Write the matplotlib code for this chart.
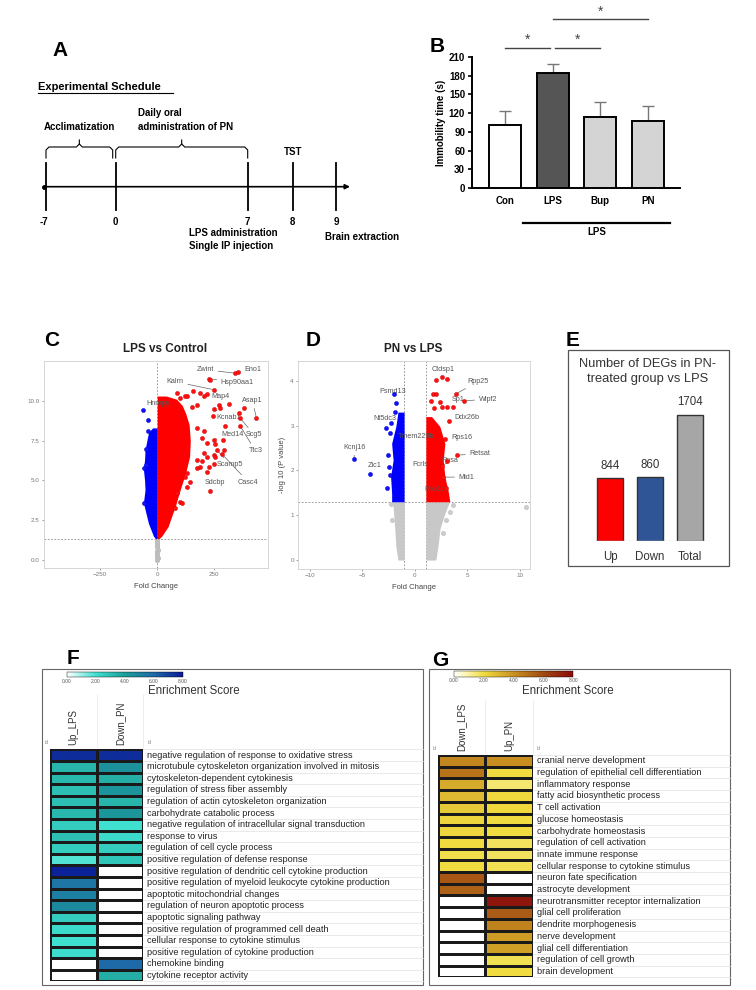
import numpy as np
import matplotlib
matplotlib.use("Agg")
import matplotlib.pyplot as plt
from matplotlib.patches import Rectangle
from matplotlib.colors import LinearSegmentedColormap, Normalize
from matplotlib.colorbar import ColorbarBase

plt.rcParams["font.family"] = ["Liberation Sans", "DejaVu Sans"]

W, H = 756, 990

# ---------------- data ----------------
# A: schedule
a_days = ["-7", "0", "7", "8", "9"]

# B: immobility time
b_groups = ["Con", "LPS", "Bup", "PN"]
b_mean = [101, 185, 114, 107]
b_err = [23, 14, 24, 25]
b_colors = ["white", "#555555", "#d4d4d4", "#d4d4d4"]

# C: LPS vs Control volcano (dense clouds as envelopes + outliers)
c_red_env_y = [1.3, 1.5, 2.1, 2.8, 3.4, 4.0, 4.6, 5.5, 6.5, 7.5, 8.5, 9.2, 9.7, 10.1, 10.3]
c_red_env_x = [5, 20, 48, 65, 80, 92, 105, 125, 142, 145, 140, 125, 110, 85, 40]
c_blue_env_y = [1.3, 1.5, 2.3, 3.0, 3.6, 4.4, 5.0, 5.7, 6.3, 6.9, 7.5, 8.0, 8.3]
c_blue_env_x = [-5, -16, -38, -50, -60, -53, -55, -60, -55, -53, -45, -38, -20]
c_red_x = [339, 354, 225, 232, 247, 186, 218, 203, 130, 313, 269, 276, 247, 379, 357, 434,
           243, 364, 295, 364, 174, 203, 247, 254, 288, 196, 218, 291, 262, 247, 254, 203,
           218, 284, 174, 196, 247, 225, 174, 189, 218, 232, 130, 145, 101, 108, 79, 86,
           123, 130, 86, 101, 123, 159, 174, 152]
c_red_y = [11.74, 11.78, 11.4, 11.3, 10.7, 10.5, 10.4, 10.3, 10.3, 9.8, 9.75, 9.55, 9.5, 9.55,
           9.26, 8.95, 9.06, 8.9, 8.4, 8.4, 8.3, 8.1, 7.55, 7.3, 7.55, 7.65, 7.34, 6.9, 6.9,
           6.6, 6.5, 6.7, 6.5, 6.65, 6.3, 6.2, 6.04, 5.87, 5.77, 5.87, 5.55, 4.36, 4.6, 4.9,
           3.67, 3.57, 3.25, 4.2, 5.24, 5.45, 10.5, 10.2, 10.3, 10.6, 9.75, 9.6]
c_blue_x = [-60, -38, -42, -57, -56, -50, -48]
c_blue_y = [9.4, 8.8, 8.1, 5.77, 3.57, 6.0, 7.0]
c_gray_x = [-2, 2, -1, 1, 0, -2, 2, 0, -1, 1, 0, -2]
c_gray_y = [0.0, 0.1, 0.2, 0.3, 0.45, 0.55, 0.65, 0.8, 0.9, 1.0, 1.1, 1.2]
c_genes = ["Eno1", "Zwint", "Kalrn", "Hsp90aa1", "Map4", "Asap1", "Kcnab1", "Med14",
           "Scg5", "Ttc3", "Scamp5", "Casc4", "Sdcbp"]
c_gene_x = [354, 339, 247, 225, 269, 434, 247, 247, 364, 364, 262, 284, 232]
c_gene_y = [11.78, 11.74, 10.7, 11.4, 9.75, 8.95, 9.5, 7.55, 8.9, 8.4, 6.9, 6.65, 4.36]
c_lab_x = [421, 211, 79, 351, 276, 417, 311, 329, 425, 430, 320, 399, 254]
c_lab_y = [11.95, 11.95, 11.2, 11.13, 10.25, 10.0, 8.93, 7.86, 7.86, 6.86, 5.97, 4.9, 4.9]

# D: PN vs LPS volcano
d_red_env_y = [1.3, 1.5, 1.86, 2.23, 2.6, 2.98, 3.2]
d_red_env_x = [3.33, 3.2, 2.86, 2.7, 2.86, 2.38, 1.6]
d_blue_env_y = [1.3, 1.49, 1.86, 2.23, 2.6, 2.98, 3.3]
d_blue_env_x = [-2.2, -2.2, -2.3, -2.06, -2.2, -1.8, -1.6]
d_gray_env_y = [0.0, 0.3, 0.7, 1.0, 1.3]
d_gray_left_x = [-1.6, -1.8, -1.9, -2.0, -2.1]
d_gray_right_x = [2.0, 2.2, 2.4, 2.8, 3.3]
d_gray_x = [10.6, 3.65, 3.33, 3.0, 2.7, -2.3, -2.2]
d_gray_y = [1.18, 1.23, 1.08, 0.9, 0.6, 1.25, 0.9]
d_red_x = [2.0, 2.54, 3.02, 3.87, 4.67, 3.65, 3.02, 2.54, 1.74, 2.06, 2.38, 3.27, 2.86, 3.97,
           2.7, 1.81, 1.5, 3.1, 3.0, 2.6]
d_red_y = [4.02, 4.08, 4.04, 3.7, 3.55, 3.41, 3.41, 3.41, 3.7, 3.7, 3.53, 3.11, 2.7, 2.34,
           1.85, 3.4, 3.55, 2.2, 1.6, 2.1]
d_blue_x = [-2.0, -2.29, -2.7, -2.38, -5.78, -4.25, -2.6, -2.5, -2.38, -2.47, -1.85, -1.8]
d_blue_y = [3.7, 3.06, 2.94, 2.83, 2.25, 1.92, 1.6, 2.34, 1.9, 2.08, 3.3, 3.5]
d_genes = ["Ctdsp1", "Rpp25", "Wipf2", "Sp1", "Ddx26b", "Rps16", "Retsat", "Rpsa", "Mid1",
           "Kcnj16", "Zic1"]
d_gene_x = [2.54, 3.87, 4.67, 3.65, 3.27, 2.86, 3.97, 2.6, 2.7, -5.78, -4.25]
d_gene_y = [4.08, 3.7, 3.55, 3.41, 3.11, 2.7, 2.34, 2.1, 1.85, 2.25, 1.92]
d_lab_x = [2.7, 6.0, 6.95, 4.1, 4.95, 4.45, 6.19, 3.33, 4.92, -5.71, -3.81]
d_lab_y = [4.26, 3.98, 3.59, 3.59, 3.19, 2.74, 2.37, 2.21, 1.85, 2.51, 2.1]
d_free_labels = ["Psmd13", "Nt5dc3", "Tmem229b", "Fcrls", "Ppp1ca"]
d_free_x = [-2.12, -2.86, 0.16, 0.48, 2.07]
d_free_y = [3.77, 3.15, 2.75, 2.14, 1.58]

# E: DEG counts
e_cats = ["Up", "Down", "Total"]
e_vals = [844, 860, 1704]
e_colors = ["#ff0000", "#2f5597", "#a6a6a6"]

# F: enrichment heatmap (Up_LPS / Down_PN)
nan = np.nan
f_terms = ["negative regulation of response to oxidative stress",
           "microtubule cytoskeleton organization involved in mitosis",
           "cytoskeleton-dependent cytokinesis",
           "regulation of stress fiber assembly",
           "regulation of actin cytoskeleton organization",
           "carbohydrate catabolic process",
           "negative regulation of intracellular signal transduction",
           "response to virus",
           "regulation of cell cycle process",
           "positive regulation of defense response",
           "positive regulation of dendritic cell cytokine production",
           "positive regulation of myeloid leukocyte cytokine production",
           "apoptotic mitochondrial changes",
           "regulation of neuron apoptotic process",
           "apoptotic signaling pathway",
           "positive regulation of programmed cell death",
           "cellular response to cytokine stimulus",
           "positive regulation of cytokine production",
           "chemokine binding",
           "cytokine receptor activity"]
f_up_lps = [7.5, 3.3, 3.2, 3.0, 3.0, 3.2, 2.6, 3.0, 2.6, 1.8, 7.8, 5.5, 5.2, 4.8, 2.6, 2.2,
            2.0, 2.1, nan, nan]
f_down_pn = [7.5, 4.5, 3.5, 4.4, 3.3, 4.3, 2.0, 2.2, 2.6, 2.8, nan, nan, nan, nan, nan, nan,
             nan, nan, 6.0, 3.5]
f_headers = ["Up_LPS", "Down_PN"]

# G: enrichment heatmap (Down_LPS / Up_PN)
g_terms = ["cranial nerve development",
           "regulation of epithelial cell differentiation",
           "inflammatory response",
           "fatty acid biosynthetic process",
           "T cell activation",
           "glucose homeostasis",
           "carbohydrate homeostasis",
           "regulation of cell activation",
           "innate immune response",
           "cellular response to cytokine stimulus",
           "neuron fate specification",
           "astrocyte development",
           "neurotransmitter receptor internalization",
           "glial cell proliferation",
           "dendrite morphogenesis",
           "nerve development",
           "glial cell differentiation",
           "regulation of cell growth",
           "brain development"]
g_down_lps = [4.3, 4.8, 3.3, 2.9, 2.5, 2.2, 2.2, 2.0, 1.9, 2.0, 5.6, 5.3, nan, nan, nan, nan,
              nan, nan, nan]
g_up_pn = [4.0, 2.0, 1.5, 2.1, 2.1, 2.0, 2.0, 1.7, 1.7, 1.8, nan, nan, 7.6, 5.5, 4.4, 3.7,
           3.6, 1.8, 2.0]
g_headers = ["Down_LPS", "Up_PN"]
score_ticks = [0, 2, 4, 6, 8]

# ---------------- figure ----------------
fig = plt.figure(figsize=(7.56, 9.9), dpi=100)


def px_ax(x, y, w, h):
    return fig.add_axes([x / W, 1 - (y + h) / H, w / W, h / H])


ov = px_ax(0, 0, W, H)
ov.set_xlim(0, W)
ov.set_ylim(H, 0)
ov.axis("off")

for letter, lx, ly in [("A", 60, 50), ("B", 437, 47), ("C", 52, 340), ("D", 313, 340),
                       ("E", 573, 340), ("F", 73, 658), ("G", 440, 661)]:
    ov.text(lx, ly, letter, fontsize=15, fontweight="bold", ha="center", va="center")

# ---- A: schedule
bold7 = dict(fontsize=7, fontweight="bold")
ov.text(38, 87, "Experimental Schedule", fontsize=8, fontweight="bold", va="center")
ov.plot([38, 173], [92.5, 92.5], color="black", lw=0.8)
tl_y = 186.7
ov.annotate("", xy=(350, tl_y), xytext=(44, tl_y),
            arrowprops=dict(arrowstyle="-|>", lw=1.2, color="black", mutation_scale=7,
                            shrinkA=0, shrinkB=0))
ov.plot([44], [tl_y], "o", color="black", ms=2.5)
tick_px = [46, 115.7, 247.7, 292.7, 336]
for d, xp in zip(a_days, tick_px):
    ov.plot([xp, xp], [162.7, 210], color="black", lw=1.3)
    ov.text(xp - (2 if d == "-7" else 0), 221.7, d, ha="center", va="center", **bold7)


def brace(x0, x1, y=147.0):
    xm = (x0 + x1) / 2
    ov.plot([x0, x0, x0 + 3, xm - 3, xm, xm], [158, 150, y, y, y - 3, y - 7], color="black", lw=0.8)
    ov.plot([x1, x1, x1 - 3, xm + 3, xm], [158, 150, y, y, y - 3], color="black", lw=0.8)


brace(46, 112.7)
brace(115.7, 247.7)
ov.text(79.3, 126.7, "Acclimatization", ha="center", va="center", **bold7)
ov.text(138.3, 113.3, "Daily oral", ha="left", va="center", **bold7)
ov.text(138.3, 126.7, "administration of PN", ha="left", va="center", **bold7)
ov.text(292.7, 151.7, "TST", ha="center", va="center", **bold7)
ov.text(189.3, 233.3, "LPS administration", ha="left", va="center", **bold7)
ov.text(189.3, 245.7, "Single IP injection", ha="left", va="center", **bold7)
ov.text(325, 236.7, "Brain extraction", ha="left", va="center", **bold7)

# ---- B: bar chart
ax_b = px_ax(472, 57, 208, 131)
xb = np.arange(len(b_groups))
ax_b.bar(xb, b_mean, width=0.67, color=b_colors, edgecolor="black", lw=1.4, zorder=3)
ax_b.errorbar(xb, b_mean, yerr=[[0] * 4, b_err], fmt="none", ecolor="#777777",
              elinewidth=1, capsize=4, capthick=1, zorder=2)
ax_b.set_xlim(-0.69, 3.67)
ax_b.set_ylim(0, 210)
ax_b.set_yticks(range(0, 211, 30))
ax_b.set_xticks(xb)
ax_b.set_xticklabels(b_groups)
for s in ["top", "right"]:
    ax_b.spines[s].set_visible(False)
for s in ["left", "bottom"]:
    ax_b.spines[s].set_linewidth(1.4)
ax_b.tick_params(labelsize=7, width=1.2, length=3, pad=2)
for t in ax_b.get_xticklabels() + ax_b.get_yticklabels():
    t.set_fontweight("bold")
ax_b.tick_params(axis="x", length=0, pad=6)
ax_b.set_ylabel("Immobility time (s)", fontsize=7, fontweight="bold", labelpad=2)
for (x0, x1, yl) in [(0, 0.94, 225), (1.06, 2.0, 225), (1.0, 3.0, 271)]:
    ax_b.plot([x0, x1], [yl, yl], color="#444444", lw=1, clip_on=False)
    ax_b.text((x0 + x1) / 2, yl + 12, "*", ha="center", va="center", fontsize=10,
              color="#444444", clip_on=False)
ax_b.plot([0.38, 3.46], [-56, -56], color="black", lw=1.6, clip_on=False)
ax_b.text(1.92, -70, "LPS", ha="center", va="center", fontsize=7, fontweight="bold")


# ---- volcano helpers
def style_volcano(ax):
    for s in ax.spines.values():
        s.set_color("#d0d0d0")
        s.set_linewidth(0.6)
    ax.tick_params(labelsize=4.5, colors="#777777", length=1.5, width=0.5, pad=1.5)


dash = dict(ls=(0, (2, 2)), color="#888888", lw=0.6, zorder=1)
red_pt = dict(s=9, color="#ff1010", edgecolors="#cc0000", linewidths=0.3, zorder=3)
blue_pt = dict(s=9, color="#1010ff", edgecolors="#0000cc", linewidths=0.3, zorder=3)

# C
ax_c = px_ax(44, 361, 224, 207)
ax_c.set_xlim(-495, 485)
ax_c.set_ylim(-0.5, 12.5)
ax_c.fill_betweenx(c_red_env_y, 0, c_red_env_x, color="#ff0000", lw=0, zorder=2)
ax_c.fill_betweenx(c_blue_env_y, c_blue_env_x, 0, color="#0000ff", lw=0, zorder=2)
ax_c.scatter(c_gray_x, c_gray_y, s=7, color="#bdbdbd", zorder=2)
ax_c.scatter(c_red_x, c_red_y, **red_pt)
ax_c.scatter(c_blue_x, c_blue_y, **blue_pt)
ax_c.axvline(0, **dash)
ax_c.axhline(1.3, **dash)
for g, gx, gy, lx, ly in zip(c_genes, c_gene_x, c_gene_y, c_lab_x, c_lab_y):
    ax_c.annotate(g, xy=(gx, gy), xytext=(lx, ly), ha="center", va="center", fontsize=5.2,
                  color="#555555", zorder=2.5,
                  arrowprops=dict(arrowstyle="-", color="#666666", lw=0.5, shrinkA=1, shrinkB=1))
ax_c.text(5, 9.8, "Hnrnpu", ha="center", va="center", fontsize=5.2, color="#555555", zorder=2.5)
ax_c.set_xticks([-250, 0, 250])
ax_c.set_yticks([0, 2.5, 5, 7.5, 10])
ax_c.set_yticklabels(["0.0", "2.5", "5.0", "7.5", "10.0"])
style_volcano(ax_c)
ax_c.set_xlabel("Fold Change", fontsize=5.5, color="#444444", labelpad=4)
ov.text(165, 349, "LPS vs Control", ha="center", va="center", fontsize=8.5, fontweight="bold",
        color="#222222")

# D
ax_d = px_ax(298, 361, 232, 208)
ax_d.set_xlim(-11.1, 10.95)
ax_d.set_ylim(-0.2, 4.44)
ax_d.fill_betweenx(d_gray_env_y, d_gray_left_x, -1.0, color="#c8c8c8", lw=0, zorder=2)
ax_d.fill_betweenx(d_gray_env_y, 1.05, d_gray_right_x, color="#c8c8c8", lw=0, zorder=2)
ax_d.scatter(d_gray_x, d_gray_y, s=7, color="#cccccc", zorder=2)
ax_d.fill_betweenx(d_red_env_y, 1.05, d_red_env_x, color="#ff0000", lw=0, zorder=2)
ax_d.fill_betweenx(d_blue_env_y, d_blue_env_x, -1.02, color="#0000ff", lw=0, zorder=2)
ax_d.scatter(d_red_x, d_red_y, **red_pt)
ax_d.scatter(d_blue_x, d_blue_y, **blue_pt)
ax_d.axvline(-1.05, **dash)
ax_d.axvline(1.05, **dash)
ax_d.axhline(1.3, **dash)
for g, gx, gy, lx, ly in zip(d_genes, d_gene_x, d_gene_y, d_lab_x, d_lab_y):
    ax_d.annotate(g, xy=(gx, gy), xytext=(lx, ly), ha="center", va="center", fontsize=5.2,
                  color="#555555", zorder=2.5,
                  arrowprops=dict(arrowstyle="-", color="#666666", lw=0.5, shrinkA=1, shrinkB=1))
for g, lx, ly in zip(d_free_labels, d_free_x, d_free_y):
    ax_d.text(lx, ly, g, ha="center", va="center", fontsize=5.2, color="#555555", zorder=2.5)
ax_d.set_xticks([-10, -5, 0, 5, 10])
ax_d.set_yticks([0, 1, 2, 3, 4])
style_volcano(ax_d)
ax_d.set_xlabel("Fold Change", fontsize=5.5, color="#444444", labelpad=4)
ax_d.set_ylabel("-log 10 (P value)", fontsize=5.5, color="#444444", labelpad=3)
ov.text(413, 349, "PN vs LPS", ha="center", va="center", fontsize=8.5, fontweight="bold",
        color="#222222")

# ---- E
ov.add_patch(Rectangle((568, 350), 161, 216, fill=False, ec="#555555", lw=0.9))
ov.text(648, 371.7, "Number of DEGs in PN-\ntreated group vs LPS", ha="center", va="center",
        fontsize=9.3, linespacing=1.3, color="#333333")
ax_e = px_ax(585, 395, 130, 145.7)
xe = np.arange(len(e_cats))
ax_e.bar(xe, e_vals, width=0.65, color=e_colors, edgecolor="#333333", lw=1)
ax_e.set_xlim(-0.63, 2.63)
ax_e.set_ylim(0, 1968)
ax_e.axis("off")
ax_e.axhline(0, xmin=0.05, xmax=0.95, color="#d9d9d9", lw=1)
for i, (c, v) in enumerate(zip(e_cats, e_vals)):
    ax_e.text(i, v + 165, str(v), ha="center", va="center", fontsize=8.3, color="#333333")
    ax_e.text(i, -216, c, ha="center", va="center", fontsize=8.3, color="#333333", clip_on=False)

# ---- F / G heatmaps
f_cmap = LinearSegmentedColormap.from_list(
    "fmap", [(0, "#ffffff"), (0.25, "#3fe0d0"), (0.5, "#1b9e98"), (0.75, "#1e6aa8"),
             (1.0, "#0a1a96")])
g_cmap = LinearSegmentedColormap.from_list(
    "gmap", [(0, "#ffffff"), (0.08, "#fff8c0"), (0.25, "#f0dc40"), (0.5, "#c89020"),
             (0.75, "#a04a12"), (1.0, "#8b0a0a")])


def heat_panel(box, cb, es_x, x0, y0, cw, rh, cols, terms, headers, cmap):
    bx0, by0, bx1, by1 = box
    ov.add_patch(Rectangle((bx0, by0), bx1 - bx0, by1 - by0, fill=False, ec="#666666", lw=0.8))
    cax = px_ax(cb[0], cb[1], cb[2], cb[3])
    cbar = ColorbarBase(cax, cmap=cmap, norm=Normalize(0, 8), orientation="horizontal",
                        ticks=score_ticks)
    cbar.outline.set_linewidth(0.3)
    cax.set_xticklabels(["%.2f" % t for t in score_ticks])
    cax.tick_params(labelsize=3.5, length=0, pad=1, colors="#555555")
    ov.text(es_x, 691, "Enrichment Score", ha="left", va="center", fontsize=8.3, color="#333333")
    n = len(terms)
    vals = np.nan_to_num(np.array(cols, dtype=float).T)
    ax = px_ax(x0, y0, 2 * cw, n * rh)
    ax.pcolormesh(vals, cmap=cmap, vmin=0, vmax=8, edgecolors="#1a1a1a", linewidth=0.8)
    ax.set_xlim(0, 2)
    ax.set_ylim(n, 0)
    ax.axis("off")
    lab_x = x0 + 2 * cw + 4
    for k in range(n + 1):
        ov.plot([x0 + 2 * cw, bx1], [y0 + k * rh, y0 + k * rh], color="#e2e2e2", lw=0.5)
    for i, t in enumerate(terms):
        ov.text(lab_x, y0 + (i + 0.5) * rh, t, ha="left", va="center", fontsize=6.6,
                color="#222222")
    for j, hd in enumerate(headers):
        ov.text(x0 + (j + 0.5) * cw, y0 - 4, hd, rotation=90, ha="center", va="bottom",
                fontsize=7, color="#333333")
    for xl in [x0 + cw, x0 + 2 * cw]:
        ov.plot([xl, xl], [y0 - 55, y0 - 2], color="#e6e6e6", lw=0.5)
    ov.text(bx0 + 3, y0 - 7, "id", fontsize=3.5, color="#777777", va="center")
    ov.text(lab_x, y0 - 7, "id", fontsize=3.5, color="#777777", va="center")


heat_panel((41.7, 669.3, 422.7, 985), (66.7, 671.7, 116, 5.6), 148, 50, 749.3, 46.65, 11.6,
           [f_up_lps, f_down_pn], f_terms, f_headers, f_cmap)
heat_panel((429.3, 669.3, 730, 985), (454, 670.7, 119.3, 6), 521.7, 437.7, 755, 47.5, 11.7,
           [g_down_lps, g_up_pn], g_terms, g_headers, g_cmap)

fig.savefig("out.png", dpi=100)
